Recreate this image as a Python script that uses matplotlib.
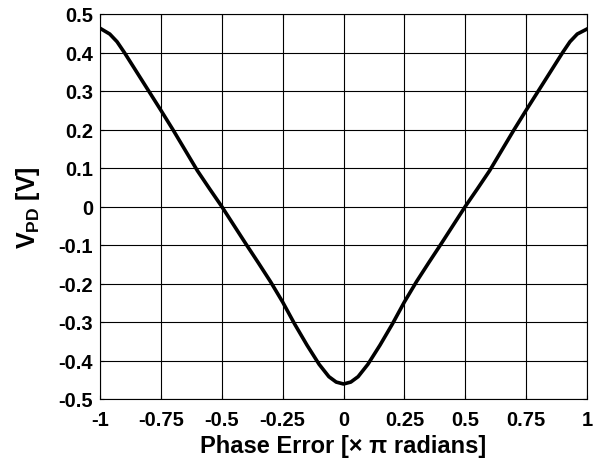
import matplotlib
matplotlib.use("Agg")
import matplotlib.pyplot as plt

plt.rcParams['font.family'] = ['Liberation Sans', 'DejaVu Sans']
plt.rcParams['mathtext.fontset'] = 'custom'
plt.rcParams['mathtext.rm'] = 'Liberation Sans:bold'
plt.rcParams['mathtext.bf'] = 'Liberation Sans:bold'

# phase error (x pi radians) and phase detector output (V)
fase = [-1.0, -0.96, -0.93, -0.9, -0.85, -0.8, -0.75, -0.7, -0.65, -0.6, -0.55, -0.5,
        -0.45, -0.4, -0.35, -0.3, -0.25, -0.2, -0.15, -0.1, -0.06, -0.03, 0.0,
        0.03, 0.06, 0.1, 0.15, 0.2, 0.25, 0.3, 0.35, 0.4, 0.45, 0.5,
        0.55, 0.6, 0.65, 0.7, 0.75, 0.8, 0.85, 0.9, 0.93, 0.96, 1.0]
vpd = [0.463, 0.448, 0.428, 0.40, 0.35, 0.30, 0.25, 0.199, 0.146, 0.093, 0.046, 0.0,
       -0.049, -0.098, -0.146, -0.195, -0.248, -0.306, -0.36, -0.41, -0.442, -0.456, -0.461,
       -0.456, -0.442, -0.41, -0.36, -0.306, -0.248, -0.195, -0.146, -0.098, -0.049, 0.0,
       0.046, 0.093, 0.146, 0.199, 0.25, 0.30, 0.35, 0.40, 0.428, 0.448, 0.461]

xticks = [-1, -0.75, -0.5, -0.25, 0, 0.25, 0.5, 0.75, 1]
xtick_labels = ['-1', '-0.75', '-0.5', '-0.25', '0', '0.25', '0.5', '0.75', '1']
yticks = [-0.5, -0.4, -0.3, -0.2, -0.1, 0, 0.1, 0.2, 0.3, 0.4, 0.5]
ytick_labels = ['-0.5', '-0.4', '-0.3', '-0.2', '-0.1', '0', '0.1', '0.2', '0.3', '0.4', '0.5']

fig = plt.figure(figsize=(6.03, 4.6), dpi=100)
ax = fig.add_axes([100 / 603, 60 / 460, 487 / 603, 385 / 460])
ax.plot(fase, vpd, color='k', linewidth=2.6)
ax.set_xlim(-1, 1)
ax.set_ylim(-0.5, 0.5)
ax.set_xticks(xticks)
ax.set_xticklabels(xtick_labels, fontsize=14.5, fontweight='bold')
ax.set_yticks(yticks)
ax.set_yticklabels(ytick_labels, fontsize=14.5, fontweight='bold')
ax.tick_params(direction='in', length=3, width=0.8, top=True, right=True)
ax.tick_params(axis='x', pad=8)
ax.tick_params(axis='y', pad=5)
ax.grid(True, color='k', linestyle='-', linewidth=0.8)
for s in ax.spines.values():
    s.set_linewidth(0.8)
ax.set_xlabel('Phase Error [\u00d7 \u03c0 radians]', fontsize=17, fontweight='bold')
ax.set_ylabel(r'$\mathbf{V_{PD}}$ [V]', fontsize=18, fontweight='bold')
ax.xaxis.set_label_coords(0.5, -0.09)
ax.yaxis.set_label_coords(-0.12, 0.5)
fig.savefig('out.png', dpi=100)
